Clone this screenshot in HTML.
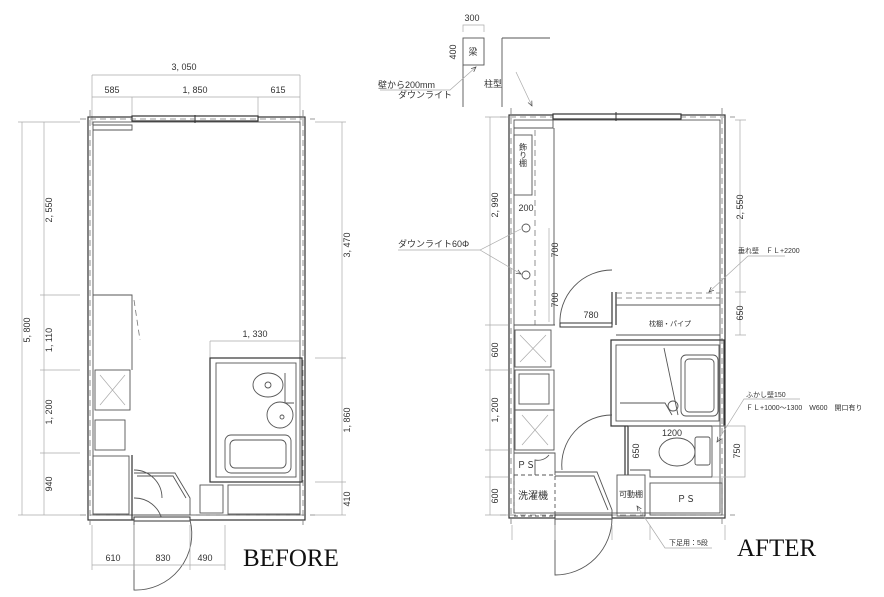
<!DOCTYPE html>
<html><head><meta charset="utf-8"><style>
body{margin:0;background:#fff}
svg{display:block}
text{font-family:"Liberation Sans","Noto Sans CJK JP",sans-serif;font-size:9px;fill:#333}
.s{font-family:"Liberation Serif","Noto Serif CJK SC",serif;font-size:25px;fill:#111}
.w{fill:none;stroke:#333;stroke-width:1.2}
.t{fill:none;stroke:#aaa;stroke-width:.7}
.d{fill:none;stroke:#777;stroke-width:.8;stroke-dasharray:6 4}
.f{fill:none;stroke:#555;stroke-width:.9}
</style></head><body>
<svg width="884" height="597" viewBox="0 0 884 597" xmlns="http://www.w3.org/2000/svg">
<defs><marker id="a" markerWidth="8" markerHeight="8" refX="7" refY="4" orient="auto"><path d="M0,1 L7,4 L0,7" fill="none" stroke="#444" stroke-width="1"/></marker></defs>

<g>
<text x="184" y="70" text-anchor="middle">3, 050</text>
<path class="t" d="M92,75H300M92,75V125M300,75V125M92,97H300M132,97V120M258,97V120"/>
<text x="112" y="93" text-anchor="middle">585</text>
<text x="195" y="93" text-anchor="middle">1, 850</text>
<text x="278" y="93" text-anchor="middle">615</text>
<rect class="w" x="88" y="117" width="217" height="403"/>
<rect class="f" x="93" y="122" width="207" height="393"/>
<rect x="132" y="116" width="126" height="5" fill="#fff" stroke="#333" stroke-width="1.2"/>
<line x1="195" y1="115" x2="195" y2="123" stroke="#333"/>
<path class="d" d="M80,119H315M80,515H315M90,110V525M303,110V525"/>
<path class="f" d="M93,125H132V130H93"/>
<path class="t" d="M22,122V515M44,122V515M18,122H80M18,515H80M40,295H80M40,370H80M40,453H80"/>
<text transform="translate(30,330) rotate(-90)" text-anchor="middle">5, 800</text>
<text transform="translate(52,210) rotate(-90)" text-anchor="middle">2, 550</text>
<text transform="translate(52,340) rotate(-90)" text-anchor="middle">1, 110</text>
<text transform="translate(52,412) rotate(-90)" text-anchor="middle">1, 200</text>
<text transform="translate(52,484) rotate(-90)" text-anchor="middle">940</text>
<path class="t" d="M342,122V515M315,122H346M315,358H346M315,482H346M315,515H346"/>
<text transform="translate(350,245) rotate(-90)" text-anchor="middle">3, 470</text>
<text transform="translate(350,420) rotate(-90)" text-anchor="middle">1, 860</text>
<text transform="translate(350,499) rotate(-90)" text-anchor="middle">410</text>
<path class="f" d="M93,295H132V370M132,295V370"/>
<path class="d" d="M134,300L140,340"/>
<rect class="f" x="95" y="370" width="35" height="40"/>
<path class="t" d="M100,375L125,405M125,375L100,405"/>
<rect class="f" x="95" y="420" width="30" height="30"/>
<rect class="f" x="93" y="456" width="36" height="58"/>
<path class="w" d="M132,455V520"/>
<text x="255" y="337" text-anchor="middle">1, 330</text>
<path class="t" d="M210,341H300M210,341V360"/>
<rect class="w" x="210" y="358" width="92" height="124"/>
<rect class="f" x="216" y="363" width="80" height="114"/>
<ellipse class="f" cx="268" cy="385" rx="15" ry="12"/><circle class="f" cx="268" cy="385" r="3"/>
<path class="f" d="M285,373V403H294"/>
<circle class="f" cx="280" cy="415" r="13"/><circle class="f" cx="282" cy="417" r="2"/>
<rect class="f" x="225" y="435" width="66" height="38" rx="6"/>
<rect class="f" x="230" y="440" width="56" height="28" rx="5"/>
<rect class="f" x="228" y="485" width="72" height="29"/>
<rect class="f" x="200" y="485" width="23" height="28"/>
<path class="f" d="M134,473H175L190,498V515H134M137,476H173L186,498"/>
<path class="f" d="M134,470A28,28 0 0 1 162,498M134,498A28,28 0 0 1 162,520"/>
<rect x="134" y="517" width="56" height="4" fill="#fff" stroke="#333"/>
<path class="f" d="M134,520V590A56,56 0 0 0 190,520" stroke-width=".6"/>
<path class="t" d="M92,525V570M134,525V570M190,525V570M225,525V570M92,565H225"/>
<text x="113" y="561" text-anchor="middle">610</text>
<text x="163" y="561" text-anchor="middle">830</text>
<text x="205" y="561" text-anchor="middle">490</text>
<text class="s" x="243" y="566">BEFORE</text>
</g>

<g>
<text x="472" y="21" text-anchor="middle">300</text>
<path class="t" d="M463,32V25H484V32"/>
<rect class="f" x="463" y="38" width="21" height="27"/>
<text x="473" y="55" text-anchor="middle">梁</text>
<text transform="translate(456,52) rotate(-90)" text-anchor="middle">400</text>
<path class="f" d="M502,38H550M502,38V107M463,65V107"/>
<text x="484" y="87">柱型</text>
<path class="t" d="M380,90H450L476,67" marker-end="url(#a)"/>
<text x="378" y="88">壁から200mm</text>
<text x="398" y="98">ダウンライト</text>
<path class="t" d="M516,72L532,106" marker-end="url(#a)"/>

<rect class="w" x="509" y="115" width="216" height="403"/>
<rect class="f" x="514" y="120" width="206" height="393"/>
<path class="d" d="M500,117H735M500,515H735M511,108V525M722,108V525"/>
<rect x="553" y="114" width="128" height="5" fill="#fff" stroke="#333" stroke-width="1.2"/>
<line x1="616" y1="112" x2="616" y2="121" stroke="#333"/>
<path class="f" d="M514,128H553V120"/>
<path class="f" d="M554,128V325"/>
<path class="d" d="M535,130V325"/>
<rect class="f" x="514" y="135" width="18" height="60"/>
<text x="523" y="155" text-anchor="middle" style="font-size:8px;writing-mode:vertical-rl">飾り棚</text>
<text x="526" y="211" text-anchor="middle">200</text>
<circle class="f" cx="526" cy="228" r="4"/><circle class="f" cx="526" cy="275" r="4"/>
<path class="t" d="M398,250H480L521,229M480,250L521,274" marker-end="url(#a)"/>
<text x="398" y="247">ダウンライト60Φ</text>
<path class="t" d="M549,228V322"/>
<text transform="translate(558,250) rotate(-90)" text-anchor="middle">700</text>
<text transform="translate(558,300) rotate(-90)" text-anchor="middle">700</text>
<path class="t" d="M490,117V515M485,117H508M485,325H508M485,370H508M485,450H508M485,477H508M485,515H508"/>
<text transform="translate(498,205) rotate(-90)" text-anchor="middle">2, 990</text>
<text transform="translate(498,350) rotate(-90)" text-anchor="middle">600</text>
<text transform="translate(498,410) rotate(-90)" text-anchor="middle">1, 200</text>
<text transform="translate(498,496) rotate(-90)" text-anchor="middle">600</text>
<path class="t" d="M740,120V335M735,120H746M735,292H746M735,335H746"/>
<text transform="translate(743,207) rotate(-90)" text-anchor="middle">2, 550</text>
<text transform="translate(743,313) rotate(-90)" text-anchor="middle">650</text>
<path class="f" d="M612,270A52,52 0 0 0 560,325" stroke-width=".6"/>
<path class="w" d="M612,292V325M616,292V325"/>
<rect x="560" y="323" width="52" height="4" fill="#fff" stroke="#333"/>
<text x="591" y="318" text-anchor="middle">780</text>
<path class="d" d="M616,293H720M616,298H720"/>
<path class="f" d="M616,305H720M616,335H720"/>
<text x="670" y="326" text-anchor="middle" style="font-size:7px">枕棚・パイプ</text>
<path class="t" d="M748,256H785M748,256L709,292" marker-end="url(#a)"/>
<text x="738" y="253" style="font-size:7px">垂れ壁　ＦＬ+2200</text>
<path class="f" d="M514,325H555"/>
<rect class="f" x="515" y="330" width="36" height="37"/>
<path class="t" d="M520,335L546,362M546,335L520,362"/>
<rect class="f" x="515" y="370" width="39" height="40"/>
<rect class="f" x="519" y="374" width="30" height="30"/>
<rect class="f" x="515" y="410" width="39" height="40"/>
<path class="t" d="M522,415L548,445M548,415L522,445"/>
<text x="526" y="468" text-anchor="middle">ＰＳ</text>
<path class="f" d="M514,453H555V475M535,475V460A14,14 0 0 0 549,455"/>
<rect class="f" x="514" y="475" width="41" height="41" stroke-dasharray="4 3"/>
<text x="533" y="499" text-anchor="middle" style="font-size:10px">洗濯機</text>
<rect class="w" x="611" y="340" width="113" height="86"/>
<rect class="f" x="616" y="345" width="103" height="76"/>
<rect class="f" x="681" y="355" width="37" height="61" rx="5"/>
<rect class="f" x="685" y="359" width="29" height="53" rx="4"/>
<path class="f" d="M620,403H665L672,415M664,348L678,415"/>
<circle class="f" cx="673" cy="406" r="5"/>
<path class="w" d="M625,426V475M628,426V475"/>
<path class="f" d="M628,426H712V477H650V470H630"/>
<text x="672" y="436" text-anchor="middle">1200</text>
<ellipse class="f" cx="677" cy="452" rx="18" ry="14"/>
<rect class="f" x="695" y="437" width="15" height="28" rx="2"/>
<text transform="translate(639,451) rotate(-90)" text-anchor="middle">650</text>
<path class="t" d="M712,426H745V477H712"/>
<text transform="translate(740,451) rotate(-90)" text-anchor="middle">750</text>
<path class="t" d="M800,399H744L717,442" marker-end="url(#a)"/>
<text x="746" y="397" style="font-size:7px">ふかし壁150</text>
<text x="746" y="410" style="font-size:7px">ＦＬ+1000～1300　W600　開口有り</text>
<path class="f" d="M612,415A50,50 0 0 0 562,470" stroke-width=".6"/>
<path class="f" d="M555,472H597L612,510V515M555,476H594L608,510"/>
<rect x="555" y="515" width="57" height="4" fill="#fff" stroke="#333"/>
<path class="f" d="M555,518V575A57,57 0 0 0 612,518" stroke-width=".6"/>
<rect class="f" x="617" y="475" width="28" height="41"/>
<text x="631" y="497" text-anchor="middle" style="font-size:8px">可動棚</text>
<rect class="f" x="650" y="483" width="72" height="32"/>
<text x="686" y="502" text-anchor="middle">ＰＳ</text>
<path class="t" d="M712,548H665L637,506" marker-end="url(#a)"/>
<text x="669" y="545" style="font-size:7px">下足用：5段</text>
<path class="t" d="M512,525V540M555,525V540M612,525V540M650,525V540M725,525V540"/>
<text class="s" x="737" y="556">AFTER</text>
</g>
</svg>
</body></html>
